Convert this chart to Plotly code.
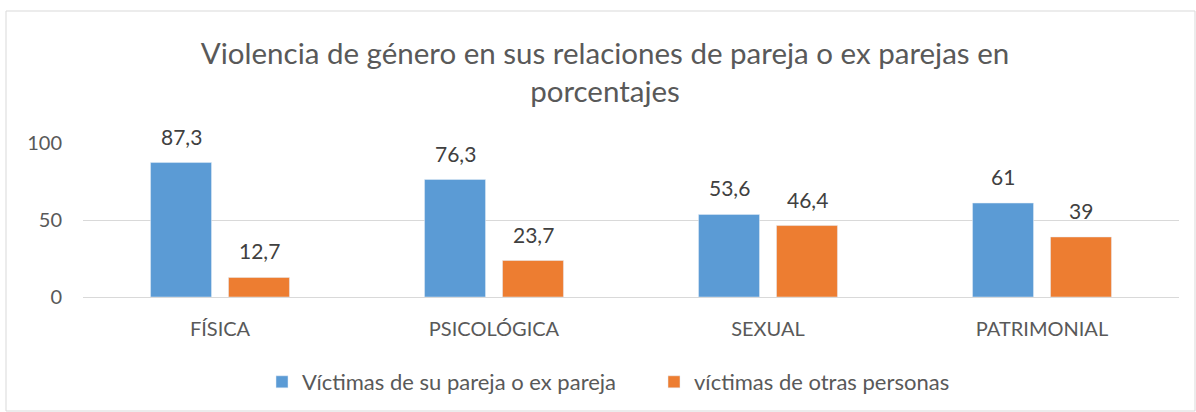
import plotly.graph_objects as go

categories = ["FÍSICA", "PSICOLÓGICA", "SEXUAL", "PATRIMONIAL"]
pareja = [87.3, 76.3, 53.6, 61]
otras = [12.7, 23.7, 46.4, 39]
series_names = ["Víctimas de su pareja o ex pareja", "víctimas de otras personas"]
title_text = "Violencia de género en sus relaciones de pareja o ex parejas en<br>porcentajes"

FONT = "Lato"
colors = ["#5B9BD5", "#ED7D31"]

fig = go.Figure()
for name, vals, col in zip(series_names, [pareja, otras], colors):
    fig.add_trace(go.Bar(x=categories, y=vals, name=name, marker_color=col,
                         hoverinfo="x+y+name"))

def fmt(v):
    s = f"{v:g}"
    return s.replace(".", ",")

annotations = []
for vals, shift in [(pareja, -39), (otras, 39)]:
    for c, v in zip(categories, vals):
        annotations.append(dict(x=c, y=v, xref="x", yref="y", text=fmt(v), showarrow=False,
                                xshift=shift, yshift=12, yanchor="bottom", xanchor="center",
                                font=dict(size=21, color="#404040", family=FONT)))

W, H = 1196, 412
l, r, t, b = 83, 17, 143, 115
pw, ph = W - l - r, H - t - b

def px_x(x):
    return (x - l) / pw

def px_y(y):
    return (H - b - y) / ph

fig.update_layout(
    width=W, height=H,
    margin=dict(l=l, r=r, t=t, b=b, autoexpand=False),
    paper_bgcolor="white", plot_bgcolor="white",
    separators=",.",
    barmode="group", bargap=0.431, bargroupgap=0.218,
    title=dict(text=title_text, x=605 / W, xanchor="center", y=1 - 64 / H, yanchor="middle",
               font=dict(family=FONT, size=29.5, color="#595959")),
    font=dict(family=FONT, color="#595959"),
    legend=dict(orientation="h", x=px_x(262), xanchor="left", y=px_y(382), yanchor="middle",
                font=dict(size=22, color="#595959", family=FONT), itemwidth=30,
                entrywidth=347, entrywidthmode="pixels", traceorder="normal"),
    xaxis=dict(showgrid=False, showline=True, linecolor="#D9D9D9", linewidth=1,
               tickfont=dict(size=20, color="#595959", family=FONT), ticklabelstandoff=14),
    yaxis=dict(range=[0, 100], tickvals=[0, 50, 100], showgrid=True, gridcolor="#D9D9D9",
               zeroline=False, showline=False, ticklabelstandoff=20,
               tickfont=dict(size=20, color="#595959", family=FONT)),
    annotations=annotations,
    shapes=[dict(type="rect", xref="paper", yref="paper",
                 x0=px_x(6), x1=px_x(1195), y0=px_y(411), y1=px_y(11),
                 line=dict(color="#D9D9D9", width=1), fillcolor="rgba(0,0,0,0)", layer="below")],
)

fig.write_html("out.html", config={"displayModeBar": False},
               post_script="document.body.style.margin='0';")
